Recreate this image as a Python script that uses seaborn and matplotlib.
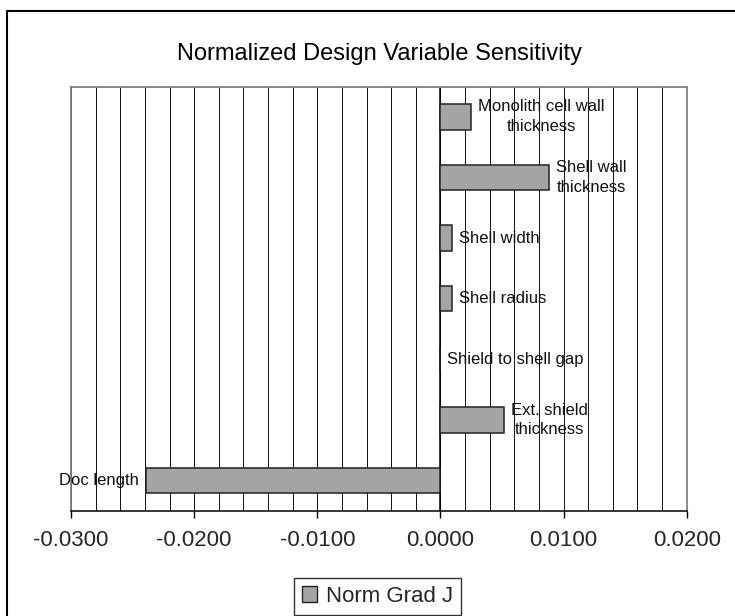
import matplotlib
matplotlib.use("Agg")
import matplotlib.pyplot as plt
from matplotlib.patches import Patch
from matplotlib.lines import Line2D
from matplotlib.ticker import MultipleLocator, FuncFormatter
import seaborn as sns
import pandas as pd

# ---- data ----
categories = ["Monolith cell wall thickness", "Shell wall thickness", "Shell width",
              "Shell radius", "Shield to shell gap", "Ext. shield thickness", "Doc length"]
bar_labels = ["Monolith cell wall\nthickness", "Shell wall\nthickness", "Shell width",
              "Shell radius", "Shield to shell gap", "Ext. shield\nthickness", "Doc length"]
values = [0.0025, 0.0088, 0.00095, 0.00095, 0.0, 0.0052, -0.0239]
series_name = "Norm Grad J"
title = "Normalized Design Variable Sensitivity"

df = pd.DataFrame({"cat": categories, "val": values})

sns.set_style("white")
plt.rcParams["font.family"] = ["Liberation Sans", "DejaVu Sans"]

W, H = 735, 616
fig = plt.figure(figsize=(W / 100, H / 100), dpi=100)
fig.patch.set_facecolor("white")

left, right, top, bottom = 71, 686.7, 86.5, 511
ax = fig.add_axes([left / W, 1 - bottom / H, (right - left) / W, (bottom - top) / H])

bar_color = "#a4a4a4"
sns.barplot(data=df, x="val", y="cat", orient="h", order=categories, color=bar_color,
            width=0.42, edgecolor="#222222", linewidth=1.1, saturation=1, ax=ax, zorder=3)

ax.set_xlim(-0.03, 0.02)
ax.set_ylim(6.5, -0.5)
ax.xaxis.set_major_locator(MultipleLocator(0.01))
ax.xaxis.set_minor_locator(MultipleLocator(0.002))
ax.xaxis.set_major_formatter(FuncFormatter(lambda v, p: f"{v:.4f}" if abs(v) > 1e-12 else "0.0000"))
ax.grid(True, axis="x", which="both", color="#111111", linewidth=0.7, zorder=0)
ax.set_axisbelow(True)
ax.tick_params(axis="x", which="major", direction="out", length=5, width=1,
               color="black", labelsize=16, pad=9, bottom=True)
ax.tick_params(axis="x", which="minor", length=0)
ax.tick_params(axis="y", left=False, labelleft=False)
ax.set_xlabel("")
ax.set_ylabel("")

for s in ["left", "top", "right"]:
    ax.spines[s].set_color("#808080")
    ax.spines[s].set_linewidth(1.3)
ax.spines["bottom"].set_color("black")
ax.spines["bottom"].set_linewidth(1.1)
ax.axvline(0, color="black", linewidth=1.1, zorder=2)

# data labels (category names) next to bar ends
for patch, lab, v in zip(ax.patches, bar_labels, values):
    y = patch.get_y() + patch.get_height() / 2
    x0 = patch.get_x()
    x1 = x0 + patch.get_width()
    if v >= 0:
        ax.annotate(lab, (max(x0, x1), y), xytext=(5.0, 0), textcoords="offset points",
                    ha="left", va="center", multialignment="center", fontsize=12,
                    linespacing=1.4, color="#111111", zorder=5)
    else:
        ax.annotate(lab, (min(x0, x1), y), xytext=(-5.5, 0), textcoords="offset points",
                    ha="right", va="center", multialignment="center", fontsize=12,
                    linespacing=1.4, color="#111111", zorder=5)

# title
fig.text(0.516, 1 - 54 / H, title, ha="center", va="center", fontsize=17, color="black")

# legend
handle = Patch(facecolor=bar_color, edgecolor="#222222", linewidth=1.0, label=series_name)
leg = fig.legend(handles=[handle], loc="center", bbox_to_anchor=(377.5 / W, 1 - 596.5 / H),
                 fontsize=16, frameon=True, fancybox=False, handlelength=0.7, handleheight=0.7,
                 handletextpad=0.4, borderpad=0.35, borderaxespad=0)
leg.get_frame().set_edgecolor("black")
leg.get_frame().set_linewidth(1.0)

# outer chart border (left and top visible)
fig.add_artist(Line2D([7.5 / W, 7.5 / W], [0, 1 - 11 / H], transform=fig.transFigure,
                      color="black", linewidth=1.5))
fig.add_artist(Line2D([7.5 / W, 1], [1 - 11 / H, 1 - 11 / H], transform=fig.transFigure,
                      color="black", linewidth=1.5))

fig.savefig("out.png", dpi=100)
